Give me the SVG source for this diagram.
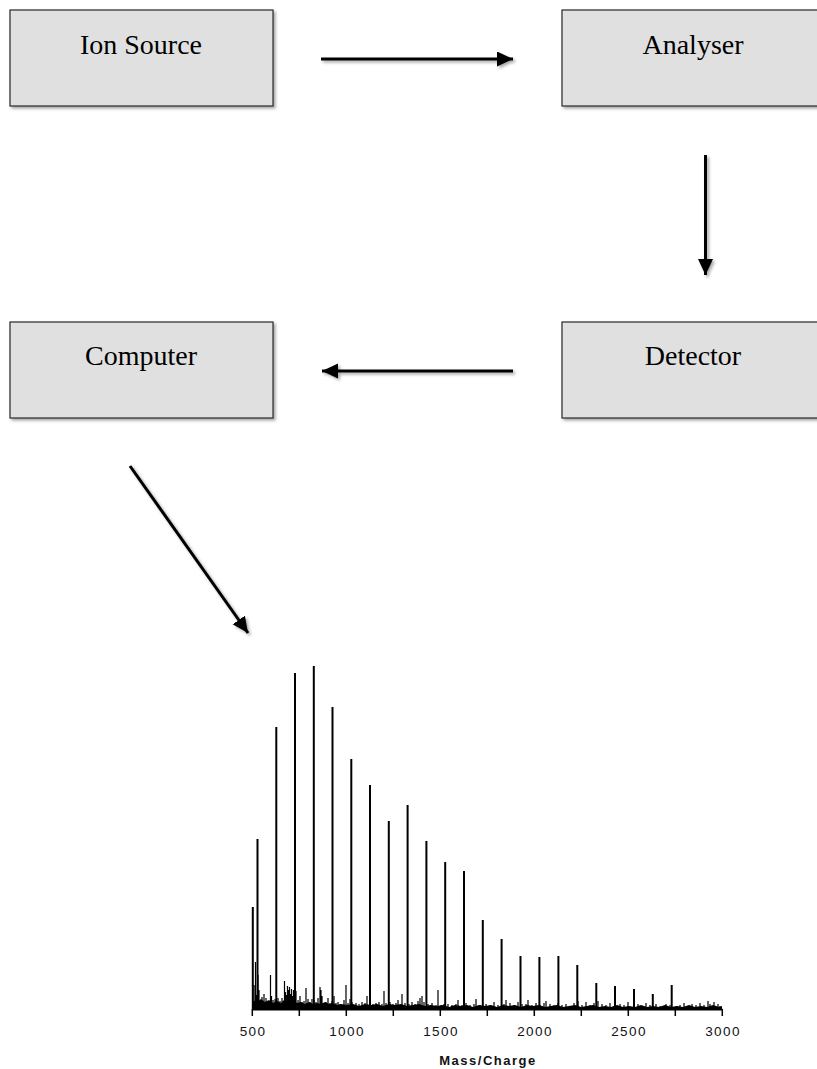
<svg xmlns="http://www.w3.org/2000/svg" width="817" height="1069" viewBox="0 0 817 1069">
<style>
.box{fill:#e0e0e0;stroke:#2a2a2a;stroke-width:1.2;filter:url(#sh)}
.lbl{font-family:"Liberation Serif","Times New Roman",serif;font-size:28px;fill:#000;text-anchor:middle}
.conn{stroke:#000;stroke-width:3;fill:none;marker-end:url(#ah)}
.peak{stroke:#000;stroke-width:2;fill:none}
.spk{stroke:#000;stroke-width:1.2;fill:none}
.tick{font-family:"Liberation Sans",Arial,sans-serif;font-size:13.5px;letter-spacing:1.4px;fill:#111;text-anchor:middle}
.axt{font-family:"Liberation Sans",Arial,sans-serif;font-size:13px;font-weight:bold;letter-spacing:1.5px;fill:#111;text-anchor:middle}
</style>
<defs>
<filter id="sh" x="-10%" y="-10%" width="130%" height="140%">
<feDropShadow dx="2" dy="2" stdDeviation="1.5" flood-color="#000" flood-opacity="0.35"/>
</filter>
<marker id="ah" markerUnits="userSpaceOnUse" markerWidth="18" markerHeight="16" refX="16" refY="7.5" orient="auto">
<path d="M0,0 L16,7.5 L0,15 Z" fill="#000"/>
</marker>
</defs>
<rect width="817" height="1069" fill="#fff"/>

<g id="ion-source">
<rect class="box" x="10" y="10" width="263" height="96"/>
<text class="lbl" x="141" y="54">Ion Source</text>
</g>
<g id="analyser">
<rect class="box" x="562" y="10" width="262" height="96"/>
<text class="lbl" x="693" y="54">Analyser</text>
</g>
<g id="computer">
<rect class="box" x="10" y="322" width="263" height="96"/>
<text class="lbl" x="141" y="365">Computer</text>
</g>
<g id="detector">
<rect class="box" x="562" y="322" width="262" height="96"/>
<text class="lbl" x="693" y="365">Detector</text>
</g>

<g id="connectors" filter="url(#sh)">
<line class="conn" x1="321" y1="59" x2="513" y2="59"/>
<line class="conn" x1="705.5" y1="155" x2="705.5" y2="275"/>
<line class="conn" x1="513" y1="371" x2="322" y2="371"/>
<line class="conn" x1="130" y1="466" x2="248" y2="633"/>
</g>

<g id="spectrum">
<polygon fill="#000" points="252,1010 252,1000 257,1002 261,999 265,1002 269,1000 273,1003 277,1001 281,1003 285,999 289,1002 293,1000 297,1003 301,1002 305,1004 309,1002 313,1004 317,1003 321,1004 325,1002 329,1004 333,1003 337,1005 341,1004 347,1005 353,1004 359,1006 365,1004 371,1005 377,1004 383,1006 389,1004 395,1005 401,1004 407,1006 413,1005 419,1004 425,1006 431,1005 437,1006 443,1005 449,1007 455,1005 461,1006 467,1005 473,1007 479,1005 485,1006 491,1005 497,1007 503,1005 509,1006 515,1005 521,1007 527,1005 533,1006 539,1005 545,1007 551,1006 557,1005 563,1007 569,1006 575,1005 581,1007 587,1006 593,1005 599,1007 605,1006 611,1007 617,1005 623,1007 629,1006 635,1007 641,1005 647,1007 653,1006 659,1007 665,1005 671,1007 677,1006 683,1007 689,1005 695,1007 701,1006 707,1007 713,1005 719,1007 722,1006 722,1010"/>
<path class="spk" d="M254,1009V985 M255.5,1009V962 M256.5,1009V995 M258,1009V975 M259,1009V990 M261,1009V1000 M262,1009V997 M264,1009V994 M266,1009V998 M268,1009V1001 M270.5,1009V975 M271.5,1009V996 M273,1009V1000 M275,1009V999 M278,1009V998 M280,1009V1001 M282,1009V998 M284.5,1009V981 M285.5,1009V992 M286.5,1009V995 M287.5,1009V986 M288.5,1009V990 M289.5,1009V987 M290.5,1009V994 M291.5,1009V989 M292.5,1009V996 M293.5,1009V990 M294.5,1009V997 M296,1009V991 M298,1009V1000 M300,1009V996 M302,1009V1002 M304,1009V1001 M306,1009V988 M308,1009V999 M310,1009V1002 M312,1009V999 M314,1009V1000 M316,1009V1002 M318,1009V998 M320,1009V987 M321,1009V990 M322,1009V996 M324,1009V1003 M326,1009V1002 M328,1009V998 M330,1009V1003 M332,1009V1001 M334,1009V996 M336,1009V1003 M338,1009V1002 M340,1009V1004 M344,1009V1000 M346,1009V985 M348,1009V1003 M350,1009V999 M352,1009V1002 M356,1009V1003 M359,1009V1004 M362,1009V1002 M365,1009V1003 M367,1009V996 M370,1009V1000 M373,1009V1004 M376,1009V1003 M379,1009V1002 M382,1009V1004 M384,1009V991 M386,1009V1003 M390,1009V1002 M393,1009V1004 M396,1009V1003 M398,1009V1000 M402,1009V994 M405,1009V1003 M409,1009V1004 M412,1009V1002 M415,1009V1004 M418,1009V1001 M420,1009V998 M422,1009V996 M424,1009V1002 M428,1009V1004 M432,1009V1003 M436,1009V1005 M438,1009V990 M441,1009V1005 M444,1009V1004 M448,1009V1004 M452,1009V1005 M456,1009V1004 M458,1009V1000 M462,1009V1005 M466,1009V1003 M470,1009V1005 M474,1009V1004 M476,1009V999 M480,1009V1005 M486,1009V1004 M490,1009V1005 M494,1009V1002 M498,1009V1005 M504,1009V1004 M506,1009V1000 M510,1009V1003 M514,1009V1005 M518,1009V1002 M522,1009V1004 M526,1009V1004 M528,1009V1000 M532,1009V1005 M536,1009V1003 M540,1009V1005 M544,1009V1003 M546,1009V1001 M550,1009V1004 M554,1009V1005 M558,1009V1003 M562,1009V1005 M566,1009V1004 M570,1009V1006 M574,1009V1003 M578,1009V1001 M582,1009V1005 M586,1009V1002 M590,1009V1005 M594,1009V1003 M598,1009V1001 M602,1009V1004 M606,1009V1005 M610,1009V1003 M614,1009V1006 M620,1009V1004 M624,1009V1005 M628,1009V1002 M634,1009V1006 M638,1009V1004 M642,1009V1006 M646,1009V1003 M650,1009V1005 M656,1009V1004 M660,1009V1006 M666,1009V1004 M670,1009V1005 M676,1009V1006 M680,1009V1005 M684,1009V1003 M688,1009V1006 M692,1009V1004 M696,1009V1005 M700,1009V1003 M704,1009V1005 M708,1009V1001 M710,1009V1004 M714,1009V1002 M718,1009V1004 M720,1009V1006"/>
<path class="peak" d="M252.8,1009V907 M257.5,1009V839 M276.3,1009V727 M295,1009V673 M313.8,1009V666 M332.5,1009V707 M351.3,1009V759 M370,1009V785 M388.8,1009V821 M407.6,1009V805 M426.4,1009V841 M445.2,1009V862 M464,1009V871 M482.8,1009V920 M501.6,1009V939 M520.5,1009V956 M539.4,1009V957 M558.4,1009V956 M577.3,1009V965 M596.3,1009V983 M615,1009V986 M634,1009V989 M652.8,1009V994 M671.7,1009V985"/>
<g id="axis" stroke="#000" stroke-width="1.5">
<line x1="252.3" y1="1009.5" x2="722.3" y2="1009.5" stroke-width="2"/>
<path d="M252.3,1009V1016 M299.3,1009V1016 M346.3,1009V1016 M393.3,1009V1016 M440.3,1009V1016 M487.3,1009V1016 M534.3,1009V1016 M581.3,1009V1016 M628.3,1009V1016 M675.3,1009V1016 M722.3,1009V1016" fill="none"/>
</g>
<text class="tick" x="253" y="1036">500</text>
<text class="tick" x="347" y="1036">1000</text>
<text class="tick" x="441" y="1036">1500</text>
<text class="tick" x="535" y="1036">2000</text>
<text class="tick" x="629" y="1036">2500</text>
<text class="tick" x="723" y="1036">3000</text>
<text class="axt" x="488" y="1065">Mass/Charge</text>
</g>
</svg>
